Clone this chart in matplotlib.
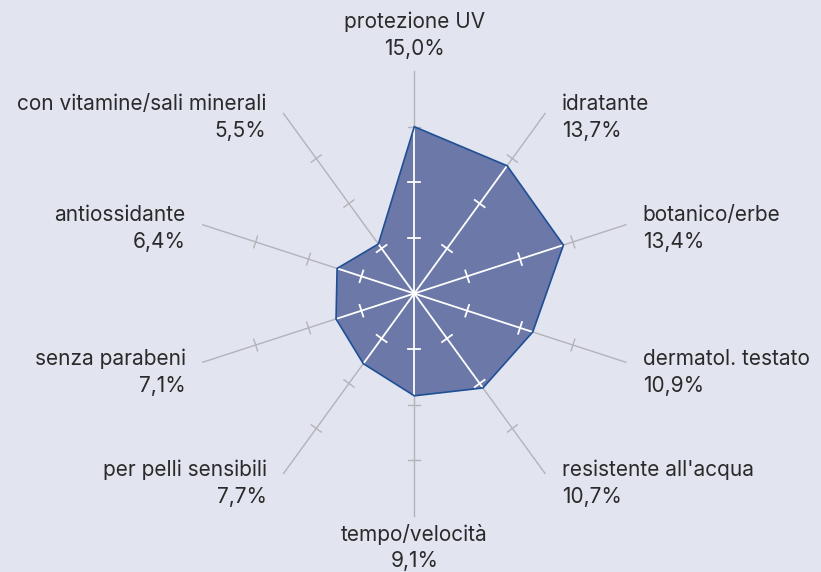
import numpy as np
import matplotlib
matplotlib.use("Agg")
import matplotlib.pyplot as plt
from matplotlib.patches import Polygon

categories = ["protezione UV", "idratante", "botanico/erbe", "dermatol. testato",
              "resistente all'acqua", "tempo/velocità", "per pelli sensibili",
              "senza parabeni", "antiossidante", "con vitamine/sali minerali"]
values = [15.0, 14.2, 14.1, 11.2, 10.5, 9.2, 7.8, 7.4, 7.3, 5.5]
value_labels = ["15,0%", "13,7%", "13,4%", "10,9%", "10,7%", "9,1%", "7,7%", "7,1%", "6,4%", "5,5%"]
r_max = 20
r_ticks = [5, 10, 15]

BG = "#e2e4f0"
FILL = "#6b78a8"
EDGE = "#1f4f94"
GRID = "#b3b3b8"
TXT = "#2a2a2a"

plt.rcParams['font.family'] = ['Inter', 'DejaVu Sans']

W, H = 821, 572
cx, cy = 414.3, 293.5
scale = 11.12  # px per unit
fig = plt.figure(figsize=(W / 100, H / 100), dpi=100, facecolor=BG)
ax = fig.add_axes([0, 0, 1, 1])
ax.set_facecolor(BG)
ax.set_xlim(-cx / scale, (W - cx) / scale)
ax.set_ylim(-(H - cy) / scale, cy / scale)
ax.axis("off")

n = len(categories)
ang = np.arange(n) * 2 * np.pi / n
ux, uy = np.sin(ang), np.cos(ang)
px, py = np.array(values) * ux, np.array(values) * uy

poly = Polygon(np.column_stack([px, py]), closed=True, facecolor=FILL,
               edgecolor="none", zorder=2)
ax.add_patch(poly)

tick_half = 0.55
def draw_grid(color, z, lw, clip=None):
    arts = []
    for i in range(n):
        arts += ax.plot([0, r_max * ux[i]], [0, r_max * uy[i]], color=color, lw=lw, zorder=z)
        for t in r_ticks:
            bx, by = t * ux[i], t * uy[i]
            nx, ny = uy[i], -ux[i]
            arts += ax.plot([bx - tick_half * nx, bx + tick_half * nx],
                            [by - tick_half * ny, by + tick_half * ny],
                            color=color, lw=lw, zorder=z)
    if clip is not None:
        for a in arts:
            a.set_clip_path(clip)

draw_grid(GRID, 1, 1.0)
draw_grid("white", 3, 1.3, clip=poly)
ax.add_patch(Polygon(np.column_stack([px, py]), closed=True, facecolor="none",
                     edgecolor=EDGE, lw=1.2, zorder=4))

fs = 15
for i in range(n):
    ex, ey = r_max * ux[i], r_max * uy[i]
    s = f"{categories[i]}\n{value_labels[i]}"
    deg = np.degrees(ang[i])
    if abs(deg) < 1:
        ax.annotate(s, (ex, ey), xytext=(0, 12), textcoords="offset pixels",
                    ha="center", va="bottom", fontsize=fs, color=TXT, linespacing=1.45)
    elif abs(deg - 180) < 1:
        ax.annotate(s, (ex, ey), xytext=(0, -8), textcoords="offset pixels",
                    ha="center", va="top", fontsize=fs, color=TXT, linespacing=1.38)
    else:
        right = deg < 180
        dy = -4 if uy[i] > 0 else -10
        ax.annotate(s, (ex, ey), xytext=(17 if right else -17, dy), textcoords="offset pixels",
                    ha="left" if right else "right", va="center", fontsize=fs,
                    color=TXT, linespacing=1.45, multialignment="left" if right else "right")

fig.savefig("out.png", dpi=100, facecolor=BG)
